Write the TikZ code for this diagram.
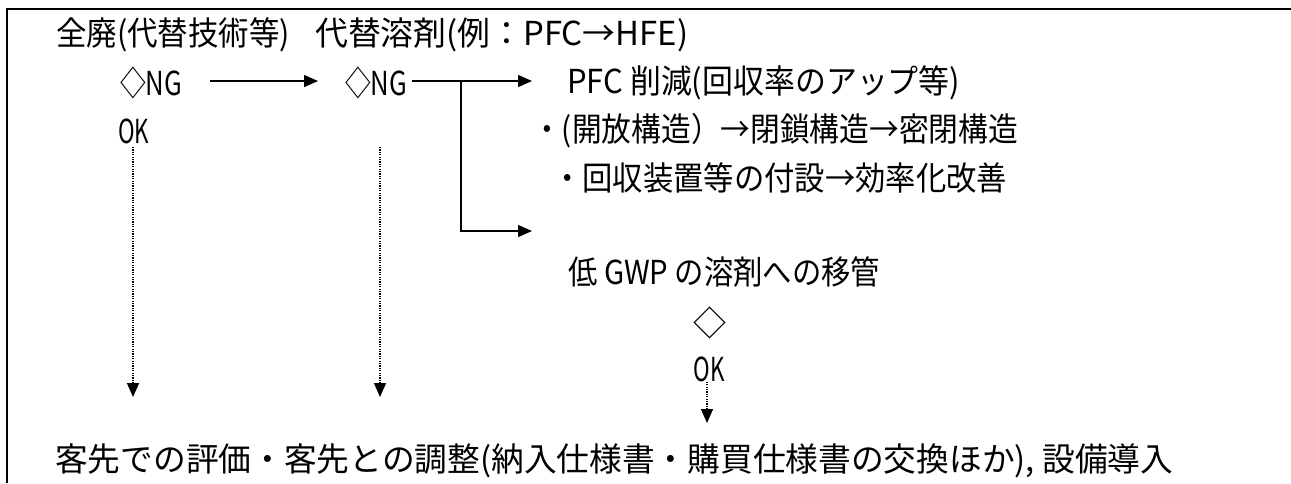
\documentclass[tikz,border=0pt]{standalone}
\usepackage{fontspec}
\usepackage{graphicx}
\setmainfont{Noto Sans CJK JP}
\usetikzlibrary{arrows.meta}
\newcommand{\fitw}[2]{\resizebox{#1pt}{\height}{#2}}
\begin{document}
\begin{tikzpicture}[x=1pt,y=-1pt,
  txt/.style={inner sep=0pt,anchor=west,font=\fontsize{33}{39}\selectfont},
  ctxt/.style={inner sep=0pt,anchor=center,font=\fontsize{33}{39}\selectfont},
  solidarrow/.style={line width=1.4pt,-{Triangle[length=14pt,width=12pt]}},
  dotarrow/.style={line width=1.4pt,dash pattern=on 1.2pt off 1.2pt,-{Triangle[length=14pt,width=12pt]}},
  frameline/.style={line width=2.5pt}]
\useasboundingbox (0,0) rectangle (1291,483);
% frame (top and left only)
\coordinate (ftr) at (1291,9);
\coordinate (ftl) at (7,9);
\coordinate (fbl) at (7,483);
\draw[frameline] (ftr) -- (ftl) -- (fbl);
% texts
\node[txt] (t1) at (56,35) {\fitw{234}{全廃(代替技術等)}};
\node[txt] (t2) at (315,35) {\fitw{373}{代替溶剤(例：PFC→HFE)}};
\node[txt] (ng1) at (120,83) {\fitw{62}{◇NG}};
\node[txt] (ng2) at (345,83) {\fitw{62}{◇NG}};
\node[txt] (pfc) at (567,83) {\fitw{393}{PFC 削減(回収率のアップ等)}};
\node[txt] (ok1) at (118,131) {\fitw{31}{OK}};
\node[txt] (open) at (532,131) {\fitw{486}{・(開放構造）→閉鎖構造→密閉構造}};
\node[txt] (kai) at (552,178) {\fitw{455}{・回収装置等の付設→効率化改善}};
\node[txt] (gwp) at (568,272) {\fitw{312}{低 GWP の溶剤への移管}};
\node[ctxt] (dia) at (710,323) {◇};
\node[ctxt] (ok3) at (709,369) {\fitw{31}{OK}};
\node[txt] (bot) at (55,461) {\fitw{1118}{客先での評価・客先との調整(納入仕様書・購買仕様書の交換ほか), 設備導入}};
% solid arrows
\coordinate (a1s) at (210,81);
\coordinate (a1e) at (318,81);
\draw[solidarrow] (a1s) -- (a1e);
\coordinate (a2s) at (412,81);
\coordinate (a2e) at (532,81);
\draw[solidarrow] (a2s) -- (a2e);
\coordinate (br) at (461,81);
\coordinate (bre) at (532,231);
\draw[solidarrow] (br) |- (bre);
% dotted arrows
\coordinate (d1s) at (133,147);
\coordinate (d1e) at (133,397);
\draw[dotarrow] (d1s) -- (d1e);
\coordinate (d2s) at (380,147);
\coordinate (d2e) at (380,397);
\draw[dotarrow] (d2s) -- (d2e);
\coordinate (d3e) at (707,423);
\draw[dotarrow] (ok3.south -| d3e) -- (d3e);
\end{tikzpicture}
\end{document}
